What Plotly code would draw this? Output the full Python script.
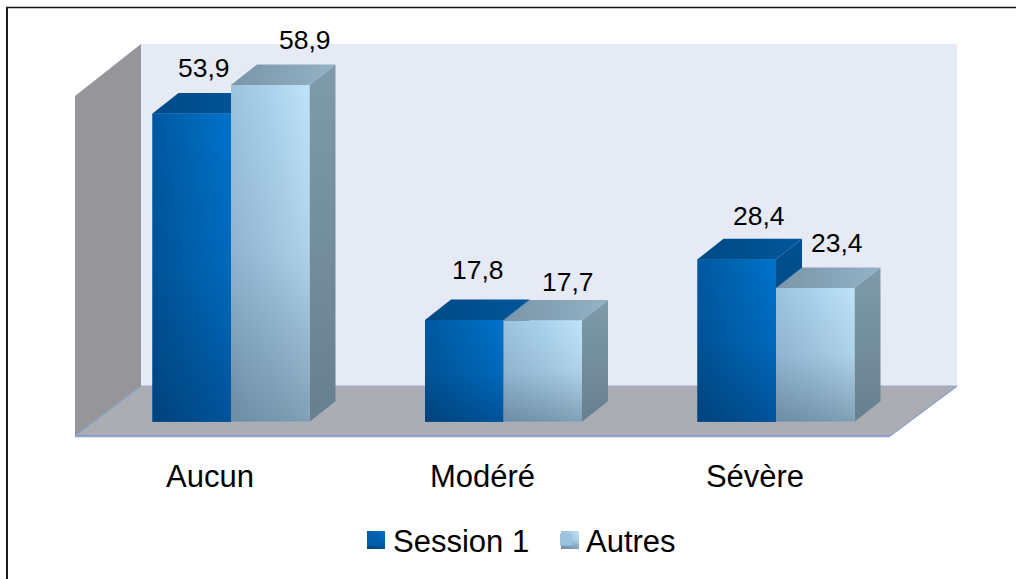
import plotly.graph_objects as go

categories = ["Aucun", "Modéré", "Sévère"]
session_1 = [53.9, 17.8, 28.4]
autres = [58.9, 17.7, 23.4]
session_labels = ["53,9", "17,8", "28,4"]
autres_labels = ["58,9", "17,7", "23,4"]

W, H = 1016, 579
AXIS_PX = 439          # where the category axis sits, px from top
X0, X_STEP = 231, 272.5  # px of category 0, px between categories
Y0, Y_STEP = 421.7, 5.716  # px of value 0, px per unit
BAR_W = 78.5 / X_STEP
DX = 26 / X_STEP      # fake 3D depth
DY = 20.5 / Y_STEP
FONT = "Liberation Sans"


def data_x(px):
    return (px - X0) / X_STEP


def data_y(py):
    return (Y0 - py) / Y_STEP


def poly(xs, ys, fill=None, gradient=None):
    kw = dict(fillgradient=gradient) if gradient else dict(fillcolor=fill)
    return go.Scatter(x=xs + xs[:1], y=ys + ys[:1], mode="lines", fill="toself",
                      line=dict(width=0), showlegend=False, hoverinfo="skip", **kw)


def grad(kind, *colors):
    n = len(colors) - 1
    return dict(type=kind, colorscale=[[i / n, c] for i, c in enumerate(colors)])


def add_3d_bar(fig, left, value, top_grad, side_grad, front_h, front_v):
    right = left + BAR_W
    fig.add_trace(poly([right, right + DX, right + DX, right],
                       [0, DY, value + DY, value], gradient=side_grad))
    fig.add_trace(poly([left, left + DX, right + DX, right],
                       [value, value + DY, value + DY, value], gradient=top_grad))
    box_x = [left, right, right, left]
    box_y = [0, 0, value, value]
    fig.add_trace(poly(box_x, box_y, gradient=front_h))
    fig.add_trace(poly(box_x, box_y, gradient=front_v))


def add_swatch(fig, px, py, size, front_h, front_v):
    xs = [data_x(px), data_x(px + size), data_x(px + size), data_x(px)]
    ys = [data_y(py + size), data_y(py + size), data_y(py), data_y(py)]
    fig.add_trace(poly(xs, ys, gradient=front_h))
    fig.add_trace(poly(xs, ys, gradient=front_v))


fig = go.Figure()

positions = list(range(len(categories)))
fig.add_trace(go.Bar(x=positions, y=session_1, name="Session 1", marker=dict(color="#0060AC", line=dict(width=0))))
fig.add_trace(go.Bar(x=positions, y=autres, name="Autres", marker=dict(color="#9CC3DE", line=dict(width=0))))

s_top = grad("horizontal", "#004A86", "#00569A")
s_side = grad("vertical", "#004478", "#00508F")
s_h = grad("horizontal", "#0058A0", "#0066B4", "#0072CC")
s_v = grad("vertical", "rgba(0,25,60,0.35)", "rgba(0,25,60,0.10)", "rgba(0,25,60,0)")
a_top = grad("horizontal", "#7A96A9", "#92B2C6")
a_side = grad("vertical", "#66808F", "#7F9BAB")
a_h = grad("horizontal", "#9CC2DE", "#ABD2EC", "#BEE4FB")
a_v = grad("vertical", "rgba(30,50,70,0.38)", "rgba(30,50,70,0.10)", "rgba(30,50,70,0)")

for i in positions:
    add_3d_bar(fig, i - BAR_W, session_1[i], s_top, s_side, s_h, s_v)
    add_3d_bar(fig, i, autres[i], a_top, a_side, a_h, a_v)

# legend swatches, the legend's own small markers stay on top of them
add_swatch(fig, 367, 531, 18, s_h, s_v)
add_swatch(fig, 561, 531, 18, a_h, a_v)

# value labels: offsets in px from the front top centre of each bar
session_shift = [(12, 46), (14, 50), (22, 43)]
autres_shift = [(35, 45), (25, 39), (22, 45)]
annotations = []
for i in positions:
    for vals, texts, shifts, cx in ((session_1, session_labels, session_shift, i - BAR_W / 2),
                                    (autres, autres_labels, autres_shift, i + BAR_W / 2)):
        annotations.append(dict(x=cx, y=vals[i], text=texts[i], showarrow=False,
                                xshift=shifts[i][0], yshift=shifts[i][1],
                                font=dict(family=FONT, size=26.5, color="black")))


def paper_x(px):
    return px / W


def paper_y(py):
    return (H - py) / H


def shape_path(points, fill):
    path = "M" + "L".join(f"{paper_x(x)},{paper_y(y)}" for x, y in points) + "Z"
    return dict(type="path", path=path, xref="paper", yref="paper", layer="below",
                fillcolor=fill, line=dict(width=0))


def shape_line(x0, y0, x1, y1, color, width):
    return dict(type="line", xref="paper", yref="paper", layer="below",
                x0=paper_x(x0), y0=paper_y(y0), x1=paper_x(x1), y1=paper_y(y1),
                line=dict(color=color, width=width))


shapes = [
    shape_path([(141, 44), (957, 44), (957, 386), (141, 386)], "#E6EAF5"),
    shape_path([(75, 96), (141, 44), (141, 386), (75, 436)], "#96969A"),
    shape_path([(75, 436), (141, 386), (957, 386), (890, 436)], "#ABADB3"),
    shape_line(75, 436, 890, 436, "#8CA2C8", 2.5),
    shape_line(890, 436, 957, 386, "#8CA2C8", 1.5),
    shape_line(75, 436, 141, 386, "#8CA2C8", 1.5),
    shape_line(141, 386, 957, 386, "#9DB0D0", 1),
    # only the top and left edges of the frame are in the picture
    shape_line(6, 7.5, W, 7.5, "#111111", 1.5),
    shape_line(7, 7, 7, H, "#1A1E22", 2),
]

fig.update_layout(
    width=W, height=H,
    margin=dict(l=0, r=0, t=0, b=0),
    paper_bgcolor="white", plot_bgcolor="rgba(0,0,0,0)",
    barmode="group", bargap=1 - 2 * BAR_W, bargroupgap=0,
    font=dict(family=FONT, color="black"),
    shapes=shapes, annotations=annotations,
    legend=dict(orientation="h", x=paper_x(353), y=paper_y(540), xanchor="left", yanchor="middle",
                font=dict(family=FONT, size=31, color="black"),
                bgcolor="rgba(0,0,0,0)", itemclick=False, itemdoubleclick=False,
                entrywidth=148, entrywidthmode="pixels", tracegroupgap=0),
)
fig.update_xaxes(range=[data_x(0), data_x(W)], showgrid=False, zeroline=False, showline=False,
                 anchor="free", position=paper_y(AXIS_PX),
                 tickmode="array", tickvals=[i - 21 / X_STEP for i in positions], ticktext=categories,
                 ticks="outside", ticklen=10, tickcolor="rgba(0,0,0,0)",
                 tickfont=dict(family=FONT, size=31, color="black"), fixedrange=True)
fig.update_yaxes(range=[data_y(H), data_y(0)], visible=False, fixedrange=True)

# the default page margin would push everything 8px down and right
fig.write_html("out.html", config=dict(displayModeBar=False),
               post_script="document.body.style.margin = '0';")
